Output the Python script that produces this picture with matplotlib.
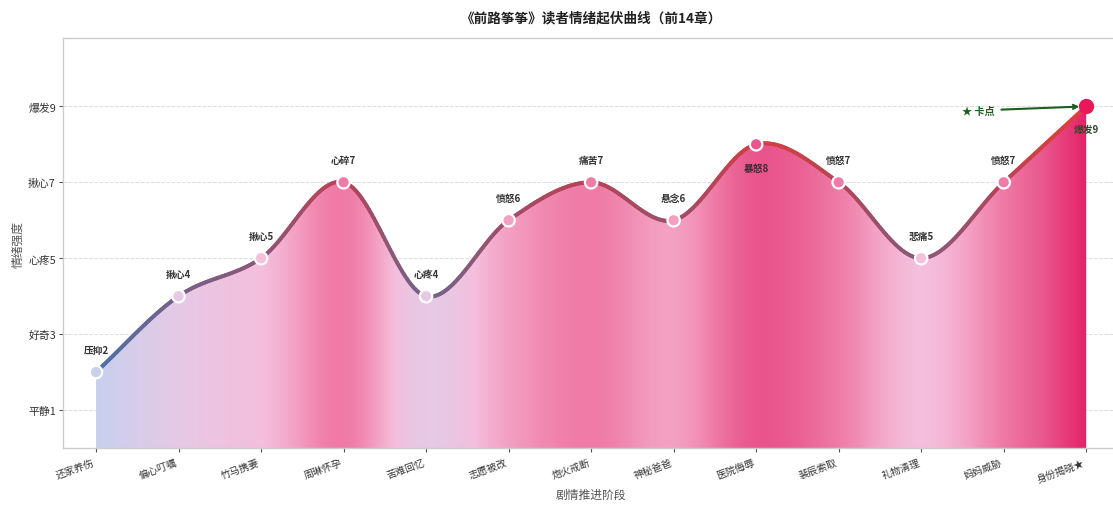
import numpy as np
import matplotlib
matplotlib.use("Agg")
import matplotlib.pyplot as plt
from matplotlib.colors import LinearSegmentedColormap, Normalize
from matplotlib.collections import LineCollection
from matplotlib.patches import Polygon

plt.rcParams['font.family'] = ['Noto Sans CJK SC', 'DejaVu Sans']
plt.rcParams['axes.unicode_minus'] = False

# ---------------- data ----------------
stages = ['还家养伤', '偏心叮嘱', '竹马携妻', '周琳怀孕', '苦难回忆', '志愿被改', '炮火戒断',
          '神秘爸爸', '医院侮辱', '裴辰索取', '礼物清理', '妈妈威胁', '身份揭晓★']
intensity = [2, 4, 5, 7, 4, 6, 7, 6, 8, 7, 5, 7, 9]
point_labels = ['压抑2', '揪心4', '揪心5', '心碎7', '心疼4', '愤怒6', '痛苦7',
                '悬念6', '暴怒8', '愤怒7', '悲痛5', '愤怒7', '爆发9']
ytick_vals = [1, 3, 5, 7, 9]
ytick_labels = ['平静1', '好奇3', '心疼5', '揪心7', '爆发9']
title = '《前路筝筝》读者情绪起伏曲线（前14章）'


# ---------------- smoothing (cubic Hermite, finite-difference slopes) ----------------
def smooth(xk, yk, xs):
    xk = np.asarray(xk, float); yk = np.asarray(yk, float)
    m = np.gradient(yk, xk)
    n = len(xk)
    idx = np.clip(np.searchsorted(xk, xs) - 1, 0, n - 2)
    h = xk[idx + 1] - xk[idx]
    t = (xs - xk[idx]) / h
    h00 = 2 * t**3 - 3 * t**2 + 1
    h10 = t**3 - 2 * t**2 + t
    h01 = -2 * t**3 + 3 * t**2
    h11 = t**3 - t**2
    return h00 * yk[idx] + h10 * h * m[idx] + h01 * yk[idx + 1] + h11 * h * m[idx + 1]


x = np.arange(len(stages))
xs = np.linspace(0, len(stages) - 1, 600)
ys = smooth(x, intensity, xs)

# ---------------- colour maps ----------------
fill_nodes = [(2.0, '#c8d0ee'), (4.0, '#e6c9e5'), (5.0, '#f5bedc'), (6.0, '#f3a0c2'),
              (7.0, '#ef7ba6'), (8.0, '#e9578d'), (9.0, '#e42468')]
line_nodes = [(2.0, '#4a72aa'), (4.0, '#76608a'), (5.0, '#8c5878'), (6.0, '#9e4e68'),
              (7.0, '#b54458'), (8.0, '#d04040'), (9.0, '#e0403c')]
vmin, vmax = 2.0, 9.0
fill_cmap = LinearSegmentedColormap.from_list(
    'fill', [((v - vmin) / (vmax - vmin), c) for v, c in fill_nodes])
line_cmap = LinearSegmentedColormap.from_list(
    'line', [((v - vmin) / (vmax - vmin), c) for v, c in line_nodes])
norm = Normalize(vmin, vmax)

# ---------------- figure ----------------
fig = plt.figure(figsize=(11.13, 5.06), dpi=100)
ax = fig.add_axes([0.0566, 0.1126, 0.949, 0.8103])
ax.set_xlim(-0.4, len(stages) - 1 + 0.4)
ax.set_ylim(0, 10.8)

# gradient fill (vertical stripes coloured by curve height), clipped under curve
ncol = 260
xc = np.linspace(0, len(stages) - 1, ncol)
yc = smooth(x, intensity, xc)
img = fill_cmap(norm(yc))[np.newaxis, :, :]
im = ax.imshow(img, extent=[0, len(stages) - 1, 0, 10.8], aspect='auto',
               interpolation='bilinear', zorder=1, origin='lower')
poly_pts = np.vstack([np.column_stack([xs, ys]),
                      [[xs[-1], 0], [xs[0], 0]]])
poly = Polygon(poly_pts, closed=True, facecolor='none', edgecolor='none')
ax.add_patch(poly)
im.set_clip_path(poly)

# coloured line
pts = np.column_stack([xs, ys]).reshape(-1, 1, 2)
segs = np.concatenate([pts[:-1], pts[1:]], axis=1)
lc = LineCollection(segs, cmap=line_cmap, norm=norm, linewidth=2.8,
                    capstyle='round', zorder=3)
lc.set_array((ys[:-1] + ys[1:]) / 2)
ax.add_collection(lc)

# markers
vals = np.array(intensity, float)
ax.scatter(x[:-1], vals[:-1], s=80, c=fill_cmap(norm(vals[:-1])),
           edgecolors='white', linewidths=1.6, zorder=4)
ax.scatter(x[-1:], vals[-1:], s=100, c='#e8185a', edgecolors='#e8185a',
           linewidths=1.0, zorder=5)

# point labels
for xi, v, lab in zip(x, intensity, point_labels):
    if lab == '暴怒8':
        ax.annotate(lab, (xi, v), xytext=(0, -17), textcoords='offset points',
                    ha='center', va='center', fontsize=7, fontweight='bold',
                    color='#3a2a30', zorder=6)
    elif lab == '爆发9':
        ax.annotate(lab, (xi, v), xytext=(0, -16), textcoords='offset points',
                    ha='center', va='center', fontsize=7, fontweight='bold',
                    color='#2e4a2e', zorder=6)
    else:
        ax.annotate(lab, (xi, v), xytext=(0, 16), textcoords='offset points',
                    ha='center', va='center', fontsize=7, fontweight='bold',
                    color='#333333', zorder=6)

# key-point annotation
ax.annotate('★ 卡点', xy=(x[-1], intensity[-1]), xytext=(10.69, 8.89),
            ha='center', va='center', fontsize=7.3, fontweight='bold',
            color='#1b5e20', zorder=6,
            arrowprops=dict(arrowstyle='->', color='#1b5e20', lw=1.5,
                            shrinkA=3, shrinkB=5))

# axes styling
ax.set_xticks(x)
ax.set_xticklabels(stages, rotation=20, ha='right', fontsize=7.2, color='#333333')
ax.set_yticks(ytick_vals)
ax.set_yticklabels(ytick_labels, fontsize=7.8, color='#333333')
ax.tick_params(axis='both', length=3, color='#555555')
ax.tick_params(axis='y', pad=2)
ax.grid(axis='y', linestyle='--', color='#dddddd', linewidth=0.7, zorder=0)
ax.set_axisbelow(True)
for sp in ax.spines.values():
    sp.set_color('#cccccc')
    sp.set_linewidth(1.0)

ax.set_xlabel('剧情推进阶段', fontsize=8.5, color='#555555', labelpad=3)
ax.set_ylabel('情绪强度', fontsize=8.5, color='#555555', labelpad=3)
ax.set_title(title, fontsize=9.8, fontweight='bold', color='#222222', pad=12)

fig.savefig('out.png', dpi=100)
